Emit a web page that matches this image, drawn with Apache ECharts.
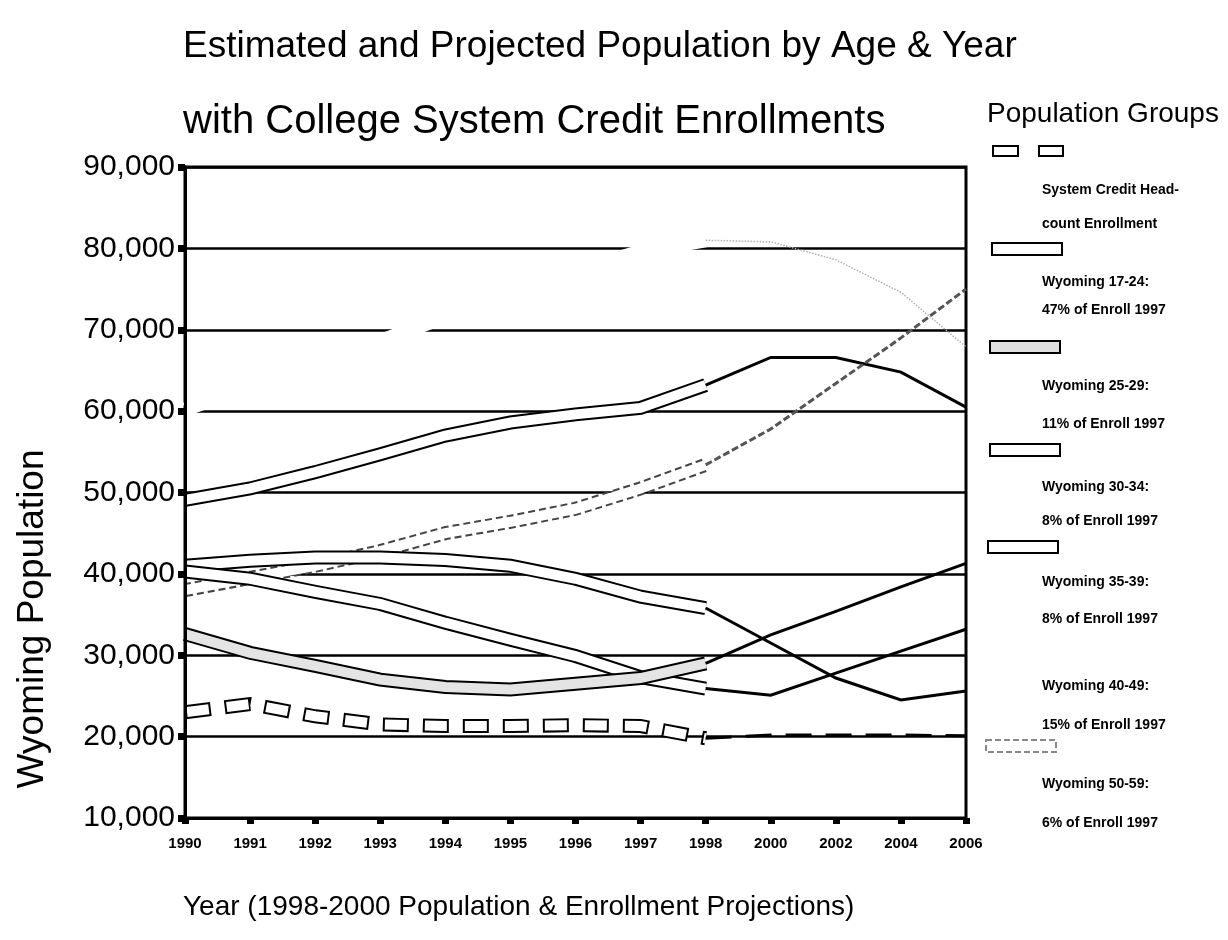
<!DOCTYPE html>
<html><head><meta charset="utf-8">
<script src="https://cdn.jsdelivr.net/npm/echarts@6/dist/echarts.min.js"></script>
<style>html,body{margin:0;padding:0;background:#fff}#c{width:1228px;height:940px}</style>
</head><body><div id="c"></div>
<script>
// ---- data ----
const years = ['1990','1991','1992','1993','1994','1995','1996','1997','1998','2000','2002','2004','2006'];
const lastEstimateIndex = 8; // 1998: ribbons end, thin projection lines start
const enrollment = [23000, 24000, 22500, 21500, 21300, 21300, 21400, 21300, 19800, 20200, 20200, 20200, 20100];
const wy1724 = [49100, 50500, 52500, 54700, 57000, 58600, 59600, 60400, 63200, 66600, 66600, 64800, 60500];
const wy2529 = [32600, 30300, 28700, 27000, 26100, 25800, 26500, 27200, 29000, 32500, 35400, 38400, 41300];
const wy3034 = [40300, 39400, 37800, 36300, 34000, 31900, 29900, 27300, 25900, 25100, 27800, 30500, 33200];
const wy3539 = [41000, 41600, 42000, 42000, 41700, 41000, 39400, 37200, 35800, 31500, 27200, 24500, 25600];
const wy4049 = [60200, 63000, 65800, 68600, 71600, 74500, 77300, 79600, 81000, 80800, 78600, 74600, 67900];
const wy5059 = [38000, 39500, 41000, 42800, 45000, 46400, 48000, 50500, 53400, 57800, 63400, 69000, 75000];
const legendLines = [
  ['System Credit Head-', 'count Enrollment'],
  ['Wyoming 17-24:', '47% of Enroll 1997'],
  ['Wyoming 25-29:', '11% of Enroll 1997'],
  ['Wyoming 30-34:', '8% of Enroll 1997'],
  ['Wyoming 35-39:', '8% of Enroll 1997'],
  ['Wyoming 40-49:', '15% of Enroll 1997'],
  ['Wyoming 50-59:', '6% of Enroll 1997']
];
const titleLine1 = 'Estimated and Projected Population by Age & Year';
const titleLine2 = 'with College System Credit Enrollments';
const legendTitle = 'Population Groups';
const xName = 'Year (1998-2000 Population & Enrollment Projections)';
const yName = 'Wyoming Population';

// ---- helpers ----
const est = a => a.map((v, i) => i <= lastEstimateIndex ? v : null);
const proj = a => a.map((v, i) => i >= lastEstimateIndex ? v : null);
const base = {type: 'line', symbol: 'none', silent: true, animation: false, connectNulls: false};
function line(data, style) {
  return Object.assign({}, base, {data: data, lineStyle: Object.assign({cap: 'butt', join: 'miter'}, style)});
}
function ribbon(arr, opts) {
  opts = opts || {};
  return [
    line(est(arr), {color: opts.edge || '#000', width: 14, type: opts.edgeType || 'solid', dashOffset: 0}),
    line(est(arr), {color: opts.fill || '#fff', width: 10, type: opts.fillType || 'solid', dashOffset: opts.fillOffset || 0})
  ];
}
const fmt = v => String(v).replace(/\B(?=(\d{3})+(?!\d))/g, ',');
const FONT = 'Liberation Sans, Arial, sans-serif';

const series = [].concat(
  [line(est(wy4049), {color: '#fff', width: 14})],
  [line(proj(wy4049), {color: '#b0b0b0', width: 1.5, type: 'dotted'})],
  ribbon(wy1724),
  [line(proj(wy1724), {color: '#000', width: 3})],
  ribbon(wy5059, {edge: '#444', edgeType: [7, 4]}),
  [line(proj(wy5059), {color: '#555', width: 3, type: [7, 3]})],
  ribbon(wy3539),
  [line(proj(wy3539), {color: '#000', width: 3})],
  ribbon(wy3034),
  [line(proj(wy3034), {color: '#000', width: 3})],
  ribbon(wy2529, {fill: '#e4e4e4'}),
  [line(proj(wy2529), {color: '#000', width: 3})],
  ribbon(enrollment, {edgeType: [26, 14], fillType: [22, 18], fillOffset: -2}),
  [line(proj(enrollment), {color: '#000', width: 3, type: [26, 14]})]
);

// ---- legend and axis names (graphic) ----
const boxes = [
  null,
  {x: 992, y: 243, fill: '#fff', stroke: '#000'},
  {x: 990, y: 341, fill: '#e0e0e0', stroke: '#000'},
  {x: 990, y: 444, fill: '#fff', stroke: '#000'},
  {x: 988, y: 541, fill: '#fff', stroke: '#000'},
  null,
  {x: 986, y: 740, fill: '#fff', stroke: '#888', dash: [6, 3]}
];
const textY = [[190, 224], [282, 310], [386, 424], [487, 521], [582, 619], [686, 725], [784, 823]];
const graphics = [];
graphics.push({type: 'rect', shape: {x: 993, y: 146, width: 25, height: 10}, style: {fill: '#fff', stroke: '#000', lineWidth: 2}});
graphics.push({type: 'rect', shape: {x: 1039, y: 146, width: 24, height: 10}, style: {fill: '#fff', stroke: '#000', lineWidth: 2}});
boxes.forEach(b => {
  if (!b) return;
  graphics.push({type: 'rect', shape: {x: b.x, y: b.y, width: 70, height: 12},
    style: {fill: b.fill, stroke: b.stroke, lineWidth: 2, lineDash: b.dash || null}});
});
legendLines.forEach((ls, i) => {
  ls.forEach((t, j) => {
    graphics.push({type: 'text', x: 1042, y: textY[i][j],
      style: {text: t, fill: '#000', font: 'bold 14px ' + FONT, textVerticalAlign: 'middle', textAlign: 'left'}});
  });
});
graphics.push({type: 'text', x: 183, y: 907,
  style: {text: xName, fill: '#000', font: '28px ' + FONT, textVerticalAlign: 'middle', textAlign: 'left'}});
graphics.push({type: 'text', x: 33, y: 619, rotation: Math.PI / 2,
  style: {text: yName, fill: '#000', font: '37px ' + FONT, textVerticalAlign: 'middle', textAlign: 'center'}});

const chart = echarts.init(document.getElementById('c'), null, {renderer: 'canvas'});
chart.setOption({
  backgroundColor: '#fff',
  animation: false,
  title: [
    {text: titleLine1, left: 183, top: 28, padding: 0, textStyle: {fontFamily: FONT, fontSize: 37, fontWeight: 'normal', color: '#000'}},
    {text: titleLine2, left: 183, top: 102, padding: 0, textStyle: {fontFamily: FONT, fontSize: 40, fontWeight: 'normal', color: '#000'}},
    {text: legendTitle, left: 987, top: 100, padding: 0, textStyle: {fontFamily: FONT, fontSize: 28, fontWeight: 'normal', color: '#000'}}
  ],
  grid: {left: 185, right: 262, top: 167, bottom: 122, show: true, borderColor: '#000', borderWidth: 3,
         backgroundColor: 'transparent', containLabel: false, outerBoundsMode: 'none'},
  xAxis: {
    type: 'category', data: years, boundaryGap: false,
    axisLine: {lineStyle: {color: '#000', width: 3}},
    axisTick: {show: true, length: 6, lineStyle: {color: '#000', width: 7}},
    axisLabel: {fontFamily: FONT, fontSize: 15, fontWeight: 'bold', color: '#000', margin: 18}
  },
  yAxis: [
    {
      type: 'value', min: 10000, max: 90000, interval: 10000,
      axisLine: {show: true, lineStyle: {color: '#000', width: 3}},
      axisTick: {show: true, length: 7, lineStyle: {color: '#000', width: 7}},
      splitLine: {show: true, lineStyle: {color: '#000', width: 2.5}},
      axisLabel: {fontFamily: FONT, fontSize: 30, color: '#000', margin: 10, formatter: fmt}
    },
    {
      type: 'value', position: 'left', min: 10000, max: 90000, interval: 10000, z: 10,
      axisLine: {show: true, onZero: false, lineStyle: {color: '#000', width: 3}},
      axisTick: {show: false}, splitLine: {show: false}, axisLabel: {show: false}
    }
  ],
  series: series,
  graphic: graphics
});
</script>
</body></html>
